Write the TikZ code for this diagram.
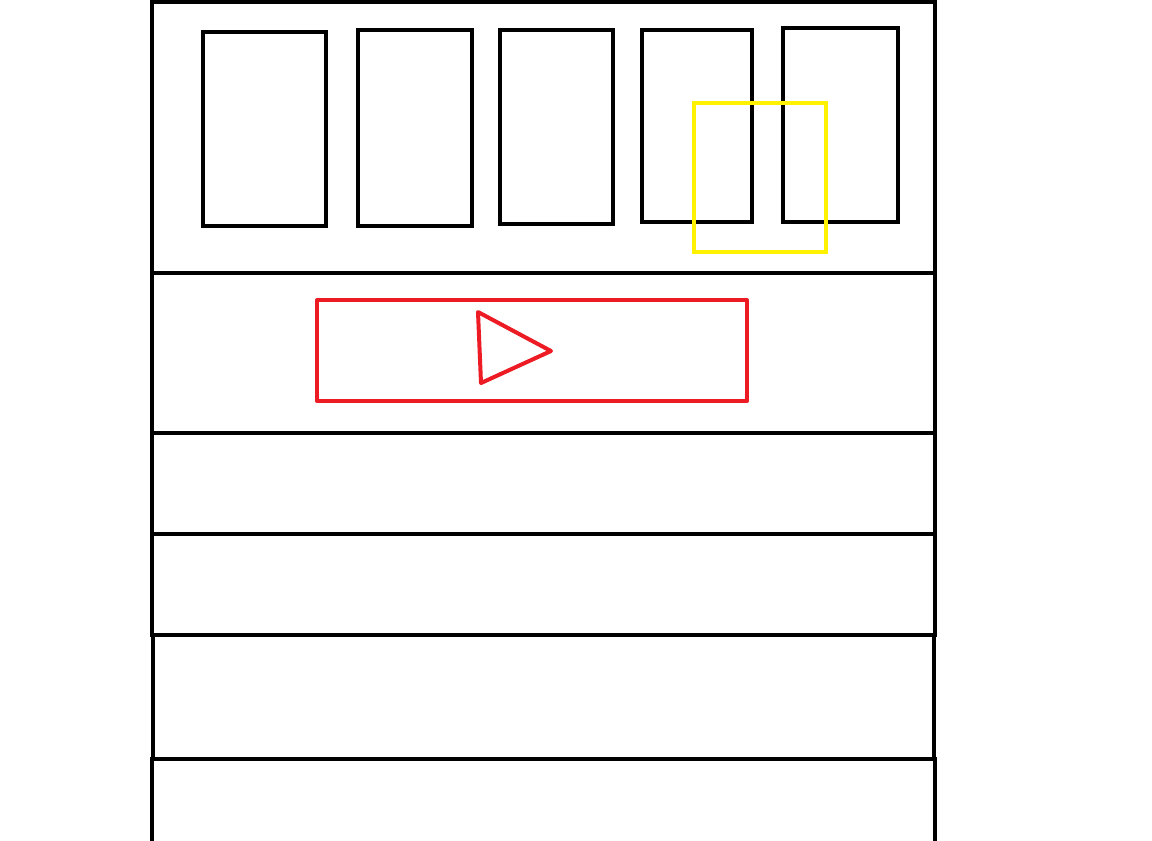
\documentclass[tikz,border=0pt]{standalone}
\definecolor{paintred}{RGB}{237,28,36}
\definecolor{paintyellow}{RGB}{255,242,0}
\begin{document}
\begin{tikzpicture}[x=0.02cm,y=-0.02cm,
  ink/.style={draw=black,line width=0.08cm},
  redink/.style={draw=paintred,line width=0.08cm,line join=round},
  yellowink/.style={draw=paintyellow,line width=0.08cm}]
\useasboundingbox[fill=white] (0,0) rectangle (1152,840);
\begin{scope}
\clip (0,0) rectangle (1152,840);
% outer frame
\draw[ink] (151.5,637) -- (151.5,2) -- (934.5,2) -- (934.5,637);
\draw[ink] (152.5,633) -- (152.5,761);
\draw[ink] (933.5,633) -- (933.5,761);
\draw[ink] (151.5,757) -- (151.5,845);
\draw[ink] (934.5,757) -- (934.5,845);
% row dividers
\draw[ink] (151.5,273) -- (934.5,273);
\draw[ink] (151.5,433) -- (934.5,433);
\draw[ink] (151.5,534) -- (934.5,534);
\draw[ink] (152.5,635) -- (933.5,635);
\draw[ink] (152.5,759) -- (933.5,759);
\end{scope}
% thumbnails
\draw[ink] (203,32) rectangle (326,226);
\draw[ink] (358,30) rectangle (472,226);
\draw[ink] (500,30) rectangle (613,224);
\draw[ink] (642,30) rectangle (752,222);
\draw[ink] (783,28) rectangle (898,222);
% yellow highlight
\draw[yellowink] (694,103) rectangle (826,252);
% player
\draw[redink] (317,300) rectangle (747,401);
\draw[redink] (478,312) -- (551,351) -- (481,383) -- cycle;
\end{tikzpicture}
\end{document}
